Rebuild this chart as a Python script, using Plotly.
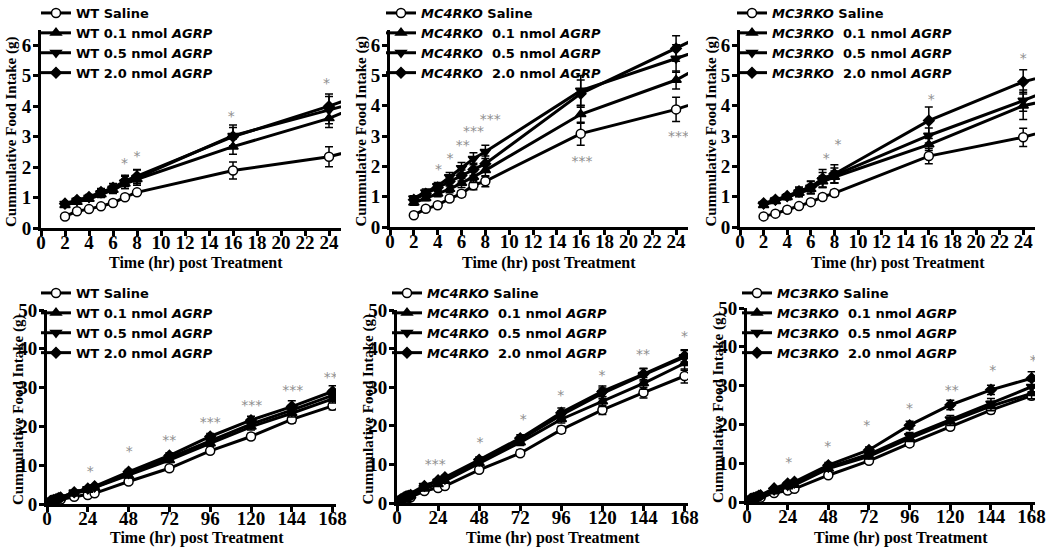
import plotly.graph_objects as go

# ---------------- data ----------------
hours = [2, 3, 4, 5, 6, 7, 8, 16, 24, 28, 48, 72, 96, 120, 144, 168]

dose_labels = ["Saline", "0.1 nmol", "0.5 nmol", "2.0 nmol"]

wt_saline = [0.38, 0.55, 0.62, 0.71, 0.82, 1.01, 1.17, 1.89, 2.34, 2.75, 5.8, 9.2, 13.7, 17.4, 21.8, 25.3]
wt_01 = [0.75, 0.85, 0.95, 1.10, 1.25, 1.45, 1.60, 2.67, 3.60, 4.25, 7.3, 11.3, 15.6, 19.9, 23.4, 27.1]
wt_05 = [0.80, 0.90, 1.00, 1.15, 1.30, 1.50, 1.65, 3.03, 3.87, 4.30, 7.8, 11.9, 16.3, 20.6, 24.2, 28.0]
wt_20 = [0.80, 0.92, 1.02, 1.18, 1.32, 1.55, 1.70, 3.00, 4.00, 4.56, 8.3, 12.5, 17.4, 21.6, 25.1, 29.0]
wt_saline_err = [0.04, 0.04, 0.04, 0.05, 0.05, 0.07, 0.08, 0.28, 0.33, 0.35, 0.5, 0.6, 0.7, 0.8, 0.9, 1.0]
wt_01_err = [0.06, 0.06, 0.07, 0.10, 0.12, 0.15, 0.15, 0.25, 0.30, 0.30, 0.5, 0.6, 0.7, 0.8, 1.0, 1.1]
wt_05_err = [0.06, 0.07, 0.08, 0.12, 0.15, 0.20, 0.25, 0.35, 0.45, 0.45, 0.6, 0.7, 0.8, 1.0, 1.3, 1.4]
wt_20_err = [0.06, 0.07, 0.08, 0.12, 0.14, 0.18, 0.22, 0.30, 0.40, 0.40, 0.6, 0.7, 0.8, 1.0, 1.5, 1.5]

mc4_saline = [0.39, 0.60, 0.72, 0.94, 1.10, 1.38, 1.51, 3.08, 3.88, 4.40, 8.6, 12.9, 19.0, 24.1, 28.6, 32.9]
mc4_01 = [0.80, 0.95, 1.10, 1.25, 1.45, 1.65, 1.87, 3.72, 4.85, 5.70, 10.3, 15.7, 21.7, 26.3, 31.0, 36.2]
mc4_05 = [0.95, 1.15, 1.35, 1.65, 1.95, 2.25, 2.48, 4.50, 5.56, 6.10, 10.8, 16.4, 22.8, 28.4, 33.2, 37.8]
mc4_20 = [0.90, 1.10, 1.30, 1.50, 1.70, 1.90, 2.09, 4.40, 5.89, 6.65, 11.2, 16.8, 23.4, 28.9, 33.4, 38.1]
mc4_saline_err = [0.05, 0.05, 0.06, 0.08, 0.10, 0.15, 0.18, 0.38, 0.40, 0.45, 0.6, 0.8, 0.9, 1.2, 1.4, 1.8]
mc4_01_err = [0.08, 0.08, 0.10, 0.12, 0.15, 0.18, 0.20, 0.30, 0.30, 0.35, 0.6, 0.8, 1.0, 1.3, 1.5, 1.8]
mc4_05_err = [0.08, 0.10, 0.12, 0.15, 0.18, 0.20, 0.22, 0.50, 0.45, 0.45, 0.7, 0.9, 1.1, 1.4, 1.6, 1.7]
mc4_20_err = [0.08, 0.10, 0.12, 0.15, 0.18, 0.20, 0.25, 0.45, 0.42, 0.45, 0.7, 0.9, 1.2, 1.4, 1.5, 1.6]

mc3_saline = [0.35, 0.44, 0.57, 0.69, 0.82, 0.99, 1.12, 2.34, 2.96, 3.40, 6.9, 10.6, 15.1, 19.4, 23.7, 27.4]
mc3_01 = [0.72, 0.85, 0.98, 1.12, 1.25, 1.50, 1.65, 2.72, 4.00, 4.35, 8.6, 11.8, 16.4, 20.7, 24.7, 28.0]
mc3_05 = [0.75, 0.88, 1.00, 1.15, 1.30, 1.55, 1.70, 3.02, 4.17, 4.80, 8.9, 12.3, 17.0, 21.3, 25.4, 29.7]
mc3_20 = [0.78, 0.90, 1.02, 1.18, 1.32, 1.60, 1.75, 3.51, 4.79, 5.20, 9.5, 13.4, 19.8, 25.0, 28.9, 31.9]
mc3_saline_err = [0.04, 0.04, 0.05, 0.06, 0.07, 0.08, 0.10, 0.25, 0.30, 0.35, 0.5, 0.6, 0.7, 0.8, 0.9, 1.0]
mc3_01_err = [0.06, 0.07, 0.08, 0.12, 0.15, 0.18, 0.20, 0.20, 0.45, 0.45, 0.6, 0.7, 0.8, 1.0, 1.2, 1.4]
mc3_05_err = [0.06, 0.07, 0.08, 0.14, 0.20, 0.25, 0.25, 0.25, 0.35, 0.40, 0.6, 0.7, 0.9, 1.0, 1.3, 1.5]
mc3_20_err = [0.06, 0.07, 0.08, 0.14, 0.20, 0.30, 0.30, 0.45, 0.40, 0.45, 0.7, 0.8, 1.0, 1.2, 1.2, 1.7]

# significance asterisks: (hour, height, label)
wt_sig_short_x = [6.95, 8.0, 15.85, 23.8]
wt_sig_short_y = [2.1, 2.32, 3.62, 4.72]
wt_sig_short_t = ["*", "*", "*", "*"]
mc4_sig_short_x = [4.06, 5.03, 6.1, 7.0, 8.4, 16.1, 24.2]
mc4_sig_short_y = [1.85, 2.23, 2.65, 3.12, 3.5, 2.12, 2.95]
mc4_sig_short_t = ["*", "*", "**", "***", "***", "***", "***"]
mc3_sig_short_x = [7.3, 8.3, 16.2, 24.0]
mc3_sig_short_y = [2.22, 2.68, 4.17, 5.52]
mc3_sig_short_t = ["*", "*", "*", "*"]

wt_sig_long_x = [25.4, 48.4, 71.9, 96.1, 120.5, 144.5, 169]
wt_sig_long_y = [8.2, 13.2, 16.0, 20.7, 25.1, 29.1, 32.3]
wt_sig_long_t = ["*", "*", "**", "***", "***", "***", "***"]
mc4_sig_long_x = [22.3, 48.5, 73.8, 95.7, 119.8, 143.7, 170]
mc4_sig_long_y = [9.6, 15.3, 21.3, 27.6, 32.7, 38.3, 42.8]
mc4_sig_long_t = ["***", "*", "*", "*", "*", "**", "**"]
mc3_sig_long_x = [24.6, 47.7, 70.7, 95.9, 120.8, 145, 169]
mc3_sig_long_y = [9.9, 14.0, 19.4, 23.9, 28.4, 33.6, 36.3]
mc3_sig_long_t = ["*", "*", "*", "*", "**", "*", "*"]

short_ticks = list(range(0, 25, 2))
long_ticks = [0, 24, 48, 72, 96, 120, 144, 168]
short_yticks = [0, 1, 2, 3, 4, 5, 6]
long_yticks = [0, 10, 20, 30, 40, 50]

# ---------------- figure ----------------
W, H = 1050, 547
fig = go.Figure()

def px_x(p):
    return p / W

def px_y(p):
    return 1 - p / H

# panel pixel boxes: (left, right, top, bottom)
panels = [
    (41, 341, 30, 228),
    (390, 688, 30, 227),
    (740, 1035, 30, 227),
    (47, 336, 310, 504),
    (397, 688, 310, 503),
    (747, 1035, 308, 502),
]
legend_pos = [(36, -2), (381, -2), (732, -2), (36, 278), (387, 278), (737, 278)]

groups = [
    ("WT", False, [wt_saline, wt_01, wt_05, wt_20], [wt_saline_err, wt_01_err, wt_05_err, wt_20_err]),
    ("MC4RKO", True, [mc4_saline, mc4_01, mc4_05, mc4_20], [mc4_saline_err, mc4_01_err, mc4_05_err, mc4_20_err]),
    ("MC3RKO", True, [mc3_saline, mc3_01, mc3_05, mc3_20], [mc3_saline_err, mc3_01_err, mc3_05_err, mc3_20_err]),
]
sig_short = [(wt_sig_short_x, wt_sig_short_y, wt_sig_short_t),
             (mc4_sig_short_x, mc4_sig_short_y, mc4_sig_short_t),
             (mc3_sig_short_x, mc3_sig_short_y, mc3_sig_short_t)]
sig_long = [(wt_sig_long_x, wt_sig_long_y, wt_sig_long_t),
            (mc4_sig_long_x, mc4_sig_long_y, mc4_sig_long_t),
            (mc3_sig_long_x, mc3_sig_long_y, mc3_sig_long_t)]

symbols = ["circle", "triangle-up", "triangle-down", "diamond"]
msizes = [9, 9, 9, 8]

serif = "Liberation Serif"
sans = "DejaVu Sans"

for pi in range(6):
    gi = pi % 3
    long_view = pi >= 3
    name, ital, series, errs = groups[gi]
    ax = "" if pi == 0 else str(pi + 1)
    xref, yref = "x" + ax, "y" + ax
    leg = "legend" + ("" if pi == 0 else str(pi + 1))
    gname = "<i>%s</i>" % name if ital else name
    for si in range(4):
        if si == 0:
            label = gname + " Saline"
        else:
            sep = "\u00a0\u00a0" if ital else " "
            label = gname + sep + dose_labels[si] + " <i>AGRP</i>"
        fig.add_trace(go.Scatter(
            x=hours, y=series[si], xaxis=xref, yaxis=yref,
            mode="lines+markers", name=label, legend=leg,
            line=dict(color="black", width=3),
            marker=dict(symbol=symbols[si], size=msizes[si],
                        color="white" if si == 0 else "black",
                        line=dict(color="black", width=1.5)),
            error_y=dict(type="data", array=errs[si], color="black",
                         thickness=1.5, width=4),
        ))
    sx, sy, st = (sig_long if long_view else sig_short)[gi]
    fig.add_trace(go.Scatter(
        x=sx, y=sy, text=st, mode="text", xaxis=xref, yaxis=yref,
        showlegend=False, hoverinfo="skip",
        textfont=dict(family=sans, size=14, color="#8f8f8f"),
    ))

    l, r, t, b = panels[pi]
    common = dict(
        showline=True, linecolor="black", linewidth=3,
        ticks="outside", ticklen=5, tickwidth=2.5, tickcolor="black",
        showgrid=False, zeroline=False, automargin=False,
        tickfont=dict(family=serif, size=19, color="black", weight="bold"),
    )
    xa = dict(
        domain=[px_x(l), px_x(r)], anchor=yref,
        range=[0, 170] if long_view else [0, 25],
        tickvals=long_ticks if long_view else short_ticks,
        ticklabelstandoff=-10,
        **common,
    )
    ya = dict(
        domain=[px_y(b), px_y(t)], anchor=xref,
        range=[0, 50] if long_view else [0, 6.5],
        tickvals=long_yticks if long_view else short_yticks,
        ticklabelstandoff=-2,
        **common,
    )
    fig.layout["xaxis" + ax] = xa
    fig.layout["yaxis" + ax] = ya

    lx, ly = legend_pos[pi]
    fig.layout[leg] = dict(
        x=px_x(lx), y=px_y(ly), xanchor="left", yanchor="top",
        bgcolor="rgba(0,0,0,0)", borderwidth=0, itemwidth=30,
        font=dict(family=sans, size=13, color="black", weight="bold"),
    )

    # axis titles
    fig.add_annotation(
        x=px_x((l + r) / 2 + (10 if pi % 3 else 5)), y=px_y(263 if pi < 3 else 538),
        xref="paper", yref="paper", text="Time (hr) post Treatment",
        showarrow=False, xanchor="center", yanchor="middle",
        font=dict(family=serif, size=16, color="black", weight="bold"),
    )
    fig.add_annotation(
        x=px_x(l - 29), y=px_y((t + b) / 2 + 3),
        xref="paper", yref="paper", text="Cummulative Food Intake (g)",
        textangle=-90, showarrow=False, xanchor="center", yanchor="middle",
        font=dict(family=serif, size=15, color="black", weight="bold"),
    )

fig.update_layout(
    width=W, height=H,
    margin=dict(l=0, r=0, t=0, b=0, autoexpand=False),
    paper_bgcolor="white", plot_bgcolor="white",
    showlegend=True,
)

fig.write_html("out.html",
               config={"displayModeBar": False},
               post_script="document.body.style.margin='0';document.body.style.overflow='hidden';")
